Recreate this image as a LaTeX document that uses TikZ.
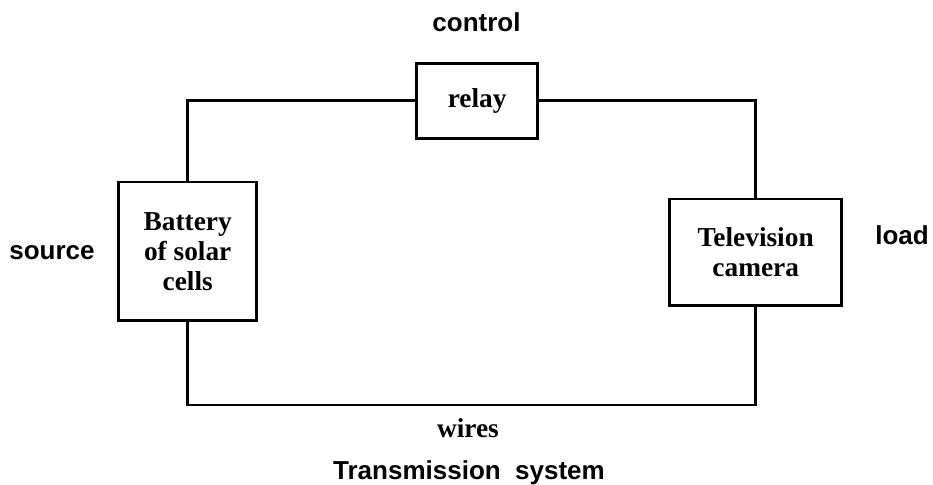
\documentclass[tikz,border=0pt]{standalone}
\usepackage{fontspec}
\setmainfont{Liberation Serif}
\setsansfont{Liberation Sans}
\usepackage{tikz}

\begin{document}
\begin{tikzpicture}[x=0.75pt, y=-0.75pt, line width=2pt,
  serifbf/.style={font=\fontsize{20.5}{22.5}\selectfont\bfseries},
  box/.style={draw, serifbf, inner sep=0pt, align=center},
  tag/.style={anchor=base, font=\fontsize{19.5}{23}\selectfont\sffamily\bfseries}]
  \useasboundingbox (0,0) rectangle (933,485);
  % boxes
  \node[box, minimum width=103.5pt, minimum height=104pt] (battery) at (187.7,251.2) {Battery\\of solar\\cells};
  \node[box, minimum width=90.75pt, minimum height=56.25pt] (relay) at (477.2,100.8) {relay};
  \node[box, minimum width=129pt, minimum height=80pt] (camera) at (755.7,252.4) {Television\\camera};
  % wires
  \coordinate (corner) at (187.7,405);
  \draw (battery.north) |- (relay.west);
  \draw (relay.east) -| (camera.north);
  \draw (battery.south) -- (corner) -| (camera.south);
  % labels
  \node[tag] (control) at (476.5,31.7) {control};
  \node[tag] (source) at (52,259) {source};
  \node[tag] (load) at (902,244.3) {load};
  \node[serifbf, anchor=base] (wirelbl) at (468,437) {wires};
  \node[tag] (system) at (469,479) {Transmission\ \ system};
\end{tikzpicture}
\end{document}
